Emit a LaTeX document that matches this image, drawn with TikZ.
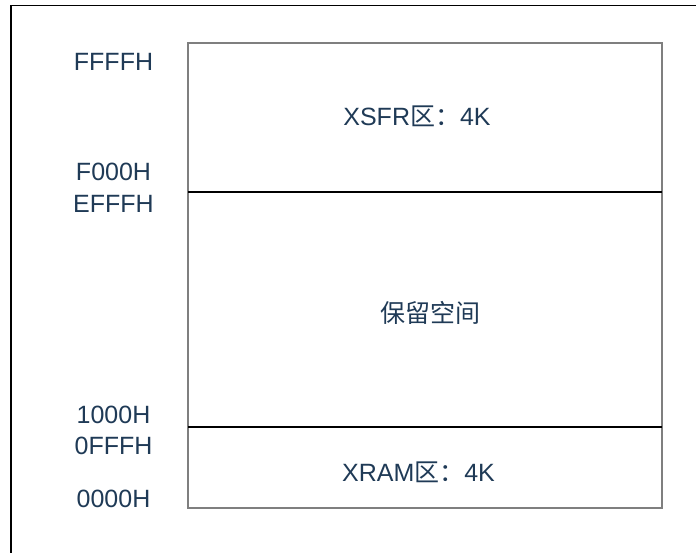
\documentclass[tikz,border=0pt]{standalone}
\usepackage{fontspec}
\setmainfont{Liberation Sans}
\newfontfamily\cjk{Noto Sans CJK SC}
\definecolor{txt}{HTML}{1F3A56}
\definecolor{boxgray}{HTML}{7F7F7F}
\tikzset{
  addr/.style={anchor=base, inner sep=0pt, text=txt, font=\fontsize{25}{28}\selectfont},
  lbl/.style={anchor=base, inner sep=0pt, text=txt, font=\fontsize{25}{28}\selectfont},
  outline/.style={draw=boxgray, line width=1.4pt},
  sep/.style={draw=black, line width=1.2pt},
  frame/.style={draw=black, line width=1.6pt}
}
\begin{document}
\begin{tikzpicture}[x=1pt,y=-1pt]
\useasboundingbox (0,0) rectangle (696,552);
% outer frame (cut at the page edge)
\coordinate (fa) at (11,570);
\coordinate (fb) at (11,5.5);
\coordinate (fc) at (710,5.5);
\draw[frame] (fa) -- (fb) -- (fc);
% memory box
\coordinate (tl) at (188,43);
\coordinate (br) at (662,508);
\coordinate (s1l) at (188,192);
\coordinate (s1r) at (662,192);
\coordinate (s2l) at (188,427);
\coordinate (s2r) at (662,427);
\draw[outline] (tl) rectangle (br);
\draw[sep] (s1l) -- (s1r);
\draw[sep] (s2l) -- (s2r);
% address labels
\node[addr] (a1) at (113.5,70) {FFFFH};
\node[addr] (a2) at (113.5,180) {F000H};
\node[addr] (a3) at (113.5,212) {EFFFH};
\node[addr] (a4) at (113.5,423) {1000H};
\node[addr] (a5) at (113.5,454) {0FFFH};
\node[addr] (a6) at (113.5,507) {0000H};
% region labels
\node[lbl] (r1) at (417,125.5) {XSFR{\cjk 区：}4K};
\node[lbl] (r2) at (430,322) {\cjk 保留空间};
\node[lbl] (r3) at (418.5,481.5) {XRAM{\cjk 区：}4K};
\end{tikzpicture}
\end{document}
